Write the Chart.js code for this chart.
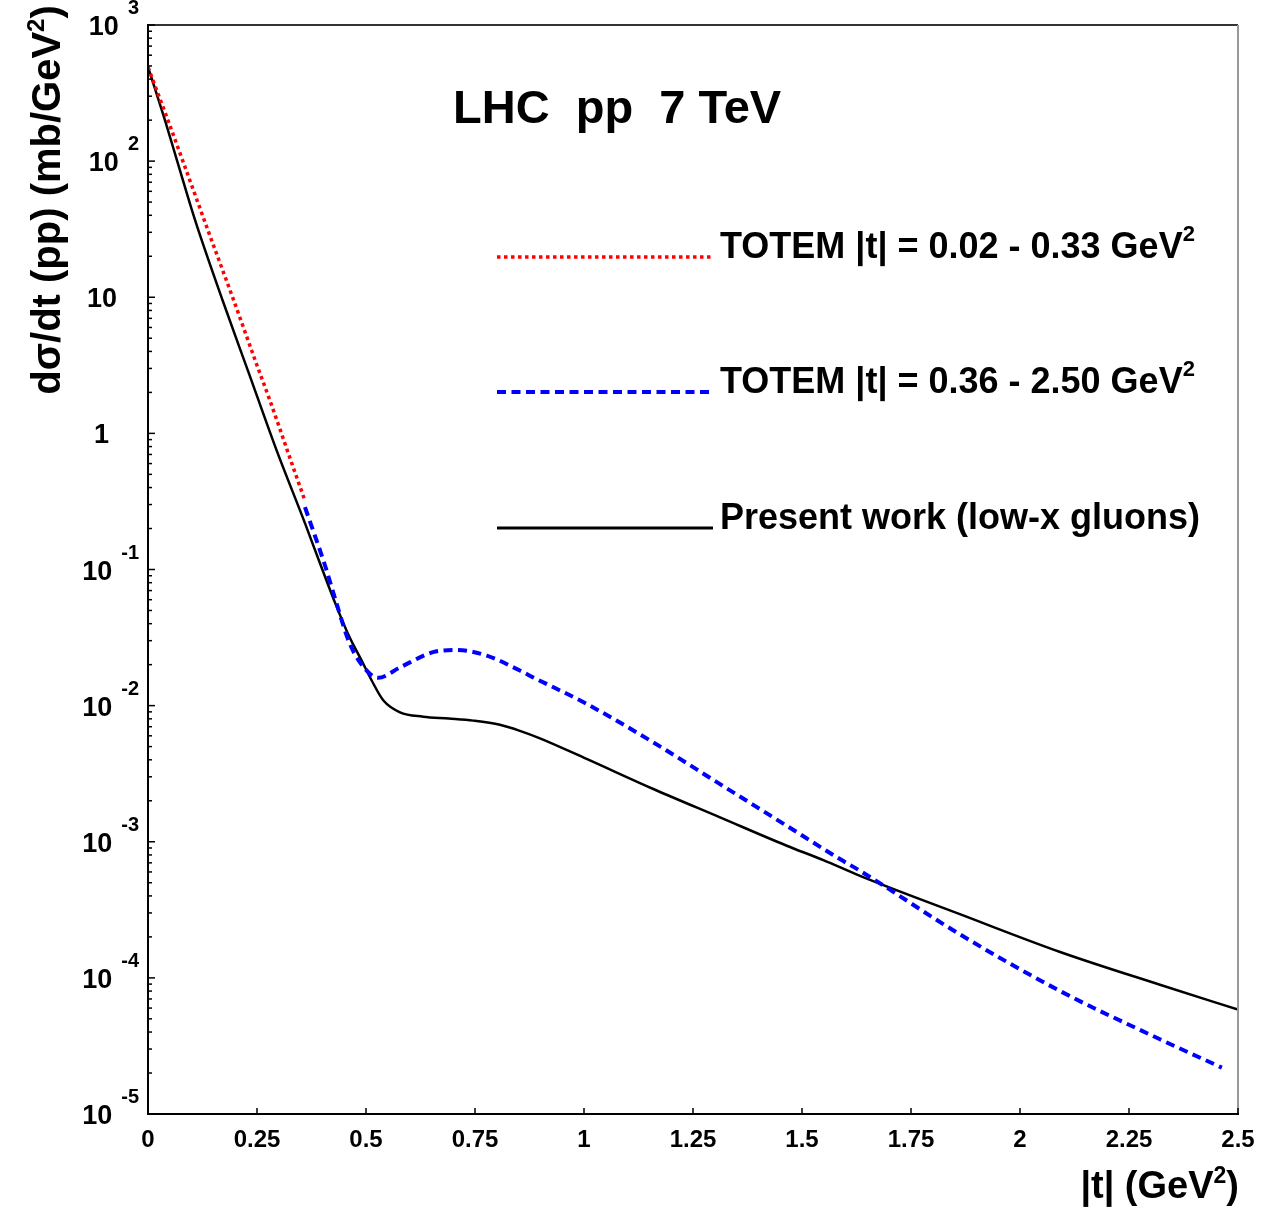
<!DOCTYPE html>
<html>
<head>
<meta charset="utf-8">
<script src="https://cdn.jsdelivr.net/npm/chart.js@4"></script>
<style>
  html, body { margin: 0; padding: 0; background: #fff; }
  #wrap { width: 1261px; height: 1208px; }
</style>
</head>
<body>
<div id="wrap"><canvas id="dsdt" width="1261" height="1208"></canvas></div>
<script>
// |t| in GeV^2, dsigma/dt in mb/GeV^2
const tRed = [0, 0.04, 0.08, 0.14, 0.194, 0.25, 0.28, 0.33, 0.358];
const sigRed = [490, 224, 100, 29.5, 10, 3.16, 1.73, 0.60, 0.333];

const tBlue = [0.36, 0.406, 0.427, 0.463, 0.505, 0.528, 0.578, 0.654, 0.708, 0.777, 0.853,
  0.884, 1.006, 1.159, 1.312, 1.465, 1.587, 1.633, 1.862, 2.092, 2.321, 2.463];
const sigBlue = [0.287, 0.107, 0.0644, 0.0284, 0.0176, 0.016, 0.0191, 0.0247, 0.0256, 0.0233, 0.0181,
  0.0161, 0.0103, 0.00537, 0.00265, 0.00131, 0.000746, 0.000612, 0.000209, 8.0e-5, 3.54e-5, 2.19e-5];

const tBlack = [0, 0.039, 0.067, 0.108, 0.171, 0.23, 0.295, 0.36, 0.394, 0.427, 0.46, 0.49, 0.513,
  0.54, 0.578, 0.631, 0.69, 0.746, 0.807, 0.853, 0.899, 1.006, 1.159, 1.312, 1.465, 1.549, 1.633,
  1.862, 2.092, 2.321, 2.5];
const sigBlack = [493, 199.5, 100, 36.8, 9.5, 2.84, 0.75, 0.219, 0.112, 0.0592, 0.033, 0.0214, 0.0153,
  0.0109, 0.00893, 0.0083, 0.00804, 0.00776, 0.00724, 0.00653, 0.00575, 0.00406, 0.00244, 0.00151,
  0.000935, 0.000733, 0.000562, 0.000294, 0.000155, 8.9e-5, 5.85e-5];

const xTicks = [0, 0.25, 0.5, 0.75, 1, 1.25, 1.5, 1.75, 2, 2.25, 2.5];
const xTickLabels = ["0", "0.25", "0.5", "0.75", "1", "1.25", "1.5", "1.75", "2", "2.25", "2.5"];
const yExps = [-5, -4, -3, -2, -1, 0, 1, 2, 3];

const legendLabels = [
  "TOTEM |t| = 0.02 - 0.33 GeV",
  "TOTEM |t| = 0.36 - 2.50 GeV",
  "Present work (low-x gluons)",
];

const FONT = '"Liberation Sans", Arial, Helvetica, sans-serif';

const toPoints = (ts, vs) => ts.map((t, i) => ({ x: t, y: vs[i] }));

const STYLES = [
  { color: "#ff0000", width: 3.5, dash: [3.5, 3.5] },
  { color: "#0000ff", width: 4, dash: [9, 5.5] },
  { color: "#000000", width: 2.5, dash: [] },
];

// draws a row of text pieces (used for superscripts)
function drawParts(ctx, x, y, parts, align) {
  let total = 0;
  parts.forEach((p) => {
    if (p.gap) { p.w = p.gap; total += p.gap; return; }
    ctx.font = `bold ${p.size}px ${FONT}`;
    p.w = ctx.measureText(p.text).width;
    total += p.w;
  });
  let cx = align === "right" ? x - total : align === "center" ? x - total / 2 : x;
  parts.forEach((p) => {
    if (!p.gap) {
      ctx.font = `bold ${p.size}px ${FONT}`;
      ctx.fillText(p.text, cx, y + (p.dy || 0));
    }
    cx += p.w;
  });
}

function line(ctx, x1, y1, x2, y2) {
  ctx.beginPath();
  ctx.moveTo(x1, y1);
  ctx.lineTo(x2, y2);
  ctx.stroke();
}

const decorPlugin = {
  id: "decor",
  afterDraw(chart) {
    const { ctx, chartArea: a } = chart;
    const xs = chart.scales.x;
    const ys = chart.scales.y;
    ctx.save();
    ctx.textAlign = "left";
    ctx.textBaseline = "alphabetic";
    ctx.fillStyle = "#000";

    // frame
    ctx.lineWidth = 2;
    ctx.strokeStyle = "#333";
    line(ctx, a.left, a.top, a.right, a.top);
    ctx.strokeStyle = "#999";
    line(ctx, a.right, a.top, a.right, a.bottom);
    ctx.strokeStyle = "#000";
    line(ctx, a.left, a.top - 1, a.left, a.bottom + 1);
    line(ctx, a.left - 1, a.bottom, a.right + 1, a.bottom);

    // y ticks (inside, on left axis)
    ctx.lineWidth = 1.5;
    yExps.forEach((k) => {
      const py = ys.getPixelForValue(Math.pow(10, k));
      line(ctx, a.left, py, a.left + 7, py);
      if (k < 3) {
        for (let m = 2; m <= 9; m++) {
          const pm = ys.getPixelForValue(m * Math.pow(10, k));
          line(ctx, a.left, pm, a.left + 4, pm);
        }
      }
    });

    // x ticks (inside, bottom)
    xTicks.forEach((v) => {
      const px = xs.getPixelForValue(v);
      line(ctx, px, a.bottom, px, a.bottom - 6);
    });

    // y labels
    yExps.forEach((k) => {
      const py = ys.getPixelForValue(Math.pow(10, k));
      if (k === 0) {
        drawParts(ctx, 109, py + 10, [{ text: "1", size: 27 }], "right");
      } else if (k === 1) {
        drawParts(ctx, 117, py + 10, [{ text: "10", size: 27 }], "right");
      } else {
        drawParts(ctx, 139, py + 10, [
          { text: "10", size: 27 },
          { gap: 9 },
          { text: String(k), size: 20, dy: -21 },
        ], "right");
      }
    });

    // x labels
    xTicks.forEach((v, i) => {
      drawParts(ctx, xs.getPixelForValue(v), 1147, [{ text: xTickLabels[i], size: 24 }], "center");
    });

    // axis titles
    drawParts(ctx, 1239, 1198, [
      { text: "|t| (GeV", size: 38 },
      { text: "2", size: 23, dy: -15 },
      { text: ")", size: 38 },
    ], "right");

    ctx.save();
    ctx.translate(60, 200);
    ctx.rotate(-Math.PI / 2);
    drawParts(ctx, 0, 0, [
      { text: "d\u03c3/dt (pp) (mb/GeV", size: 40 },
      { text: "2", size: 24, dy: -16 },
      { text: ")", size: 40 },
    ], "center");
    ctx.restore();

    // title
    drawParts(ctx, 453, 123, [{ text: "LHC  pp  7 TeV", size: 47 }], "left");

    // legend
    const rows = [257, 392, 528];
    rows.forEach((ly, i) => {
      const s = STYLES[i];
      ctx.save();
      ctx.strokeStyle = s.color;
      ctx.lineWidth = i === 2 ? 3 : s.width;
      ctx.setLineDash(s.dash);
      line(ctx, 497, ly, 713, ly);
      ctx.restore();
      const parts = [{ text: legendLabels[i], size: 36 }];
      if (i < 2) parts.push({ text: "2", size: 22, dy: -17 });
      drawParts(ctx, 720, ly + 1, parts, "left");
    });

    ctx.restore();
  },
};

const datasets = [
  toPoints(tRed, sigRed),
  toPoints(tBlue, sigBlue),
  toPoints(tBlack, sigBlack),
].map((data, i) => ({
  data,
  borderColor: STYLES[i].color,
  borderWidth: STYLES[i].width,
  borderDash: STYLES[i].dash,
  borderCapStyle: "butt",
  pointRadius: 0,
  fill: false,
  cubicInterpolationMode: "monotone",
}));

new Chart(document.getElementById("dsdt").getContext("2d"), {
  type: "line",
  data: { datasets },
  options: {
    responsive: false,
    animation: false,
    devicePixelRatio: 1,
    layout: { padding: { left: 148, top: 25, right: 23, bottom: 94 } },
    plugins: { legend: { display: false }, tooltip: { enabled: false } },
    scales: {
      x: { type: "linear", min: 0, max: 2.5, display: false },
      y: { type: "logarithmic", min: 1e-5, max: 1e3, display: false },
    },
  },
  plugins: [decorPlugin],
});
</script>
</body>
</html>
